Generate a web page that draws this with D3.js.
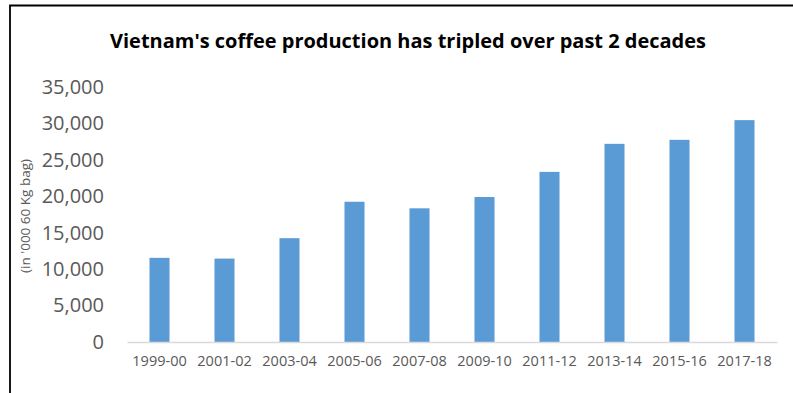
<!DOCTYPE html>
<html>
<head>
<meta charset="utf-8">
<script src="https://cdn.jsdelivr.net/npm/d3@7"></script>
<style>
  html, body { margin: 0; padding: 0; background: #fff; }
  svg { display: block; }
</style>
</head>
<body>
<svg id="chart" width="793" height="393"></svg>
<script>
const categories = ["1999-00","2001-02","2003-04","2005-06","2007-08","2009-10","2011-12","2013-14","2015-16","2017-18"];
const production = [11550, 11450, 14250, 19250, 18350, 19900, 23350, 27200, 27750, 30450];
const yTicks = [0, 5000, 10000, 15000, 20000, 25000, 30000, 35000];
const titleText = "Vietnam's coffee production has tripled over past 2 decades";
const yAxisTitle = "(in '000 60 Kg bag)";

const svg = d3.select("#chart");
const font = "'Open Sans', 'Liberation Sans', sans-serif";

// frame (chart box, cropped on right/bottom)
svg.append("path")
  .attr("d", "M10,393 V5.5 H793")
  .attr("fill", "none")
  .attr("stroke", "#000")
  .attr("stroke-width", 1.8);

const x = d3.scaleBand()
  .domain(categories)
  .range([127, 777])
  .paddingInner(0.692)
  .paddingOuter(0.346);

const y = d3.scaleLinear()
  .domain([0, 35000])
  .range([342, 87]);

// title
svg.append("text")
  .attr("x", 408)
  .attr("y", 48)
  .attr("text-anchor", "middle")
  .attr("font-family", font)
  .attr("font-weight", "bold")
  .attr("font-size", 19.5)
  .attr("fill", "#000")
  .attr("textLength", 596)
  .attr("lengthAdjust", "spacingAndGlyphs")
  .text(titleText);

// bars
svg.append("g").selectAll("rect")
  .data(categories)
  .join("rect")
  .attr("x", d => x(d))
  .attr("width", x.bandwidth())
  .attr("y", (d, i) => y(production[i]))
  .attr("height", (d, i) => y(0) - y(production[i]))
  .attr("fill", "#5B9BD5");

// y axis labels
const yAxis = d3.axisLeft(y).tickValues(yTicks).tickSize(0).tickPadding(0)
  .tickFormat(d3.format(","));
const yg = svg.append("g").attr("transform", "translate(104,0)").call(yAxis);
yg.select(".domain").remove();
yg.selectAll("text")
  .attr("font-family", font)
  .attr("font-size", 20)
  .attr("fill", "#595959");

// x axis
const xAxis = d3.axisBottom(x).tickSize(0).tickPadding(14);
const xg = svg.append("g").attr("transform", `translate(0,${y(0)})`).call(xAxis);
xg.select(".domain")
  .attr("stroke", "#D9D9D9")
  .attr("stroke-width", 1.5);
xg.selectAll("text")
  .attr("font-family", font)
  .attr("font-size", 14.5)
  .attr("fill", "#595959");

// y axis title
svg.append("text")
  .attr("transform", "translate(30,216) rotate(-90)")
  .attr("text-anchor", "middle")
  .attr("font-family", font)
  .attr("font-size", 13.5)
  .attr("fill", "#595959")
  .text(yAxisTitle);
</script>
</body>
</html>
